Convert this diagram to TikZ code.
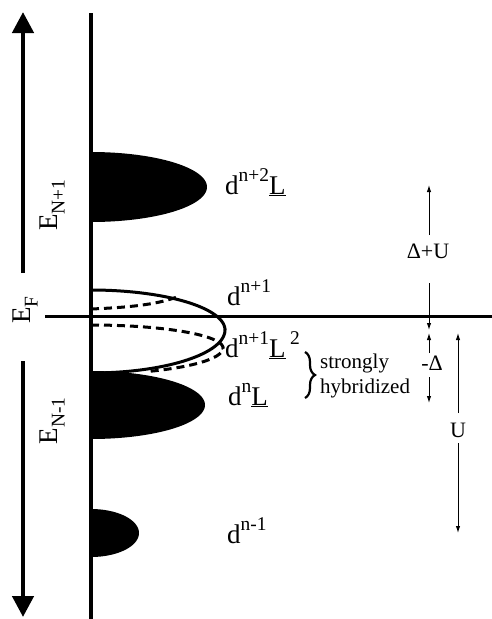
\documentclass[tikz,border=0pt]{standalone}
\usepackage{fontspec}
\setmainfont{Liberation Serif}
\usetikzlibrary{arrows.meta,decorations.pathreplacing}
\newcommand\supx[1]{\raisebox{0.45em}{\scalebox{0.72}{#1}}}
\newcommand\subx[1]{\raisebox{-0.28em}{\scalebox{0.72}{#1}}}
\begin{document}
\begin{tikzpicture}[x=1pt,y=-1pt,
  lbl/.style={inner sep=0pt, font=\fontsize{27}{29}\selectfont},
  elbl/.style={inner sep=0pt, rotate=90, font=\fontsize{27}{29}\selectfont},
  glbl/.style={inner sep=0pt, font=\fontsize{22}{24}\selectfont},
  gaparrow/.style={line width=1pt, -{Latex[length=7pt,width=4.5pt]}},
  bigarrow/.style={line width=4.5pt, -{Triangle[length=21pt,width=21pt]}},
  band/.style={fill=black},
  solidline/.style={line width=3pt},
  dashline/.style={line width=3pt, dash pattern=on 8pt off 5pt}]
\useasboundingbox (0,0) rectangle (492,619);

% hybridized band curves
\draw[solidline] plot[smooth, domain=-90:0, samples=40] ({91+134*cos(\x)},{330+40*sin(\x)})
  -- plot[smooth, domain=0:90, samples=40] ({91+134*cos(\x)},{330+43*sin(\x)});
\coordinate (ud0) at (91,309);
\coordinate (ud1) at (177,297);
\draw[dashline] (ud0) .. controls (140,307) and (160,303) .. (ud1);
\draw[dashline] plot[smooth, domain=-90:0, samples=40] ({91+132*cos(\x)},{348+23*sin(\x)})
  -- plot[smooth, domain=0:65, samples=30] ({91+132*cos(\x)},{348+26*sin(\x)});

% filled bands
\fill[band] plot[smooth, domain=-90:90, samples=60] ({91+116*cos(\x)},{187+35*sin(\x)}) -- cycle;
\fill[band] plot[smooth, domain=-90:90, samples=60] ({91+114*cos(\x)},{405+34*sin(\x)}) -- cycle;
\fill[band] plot[smooth, domain=-90:90, samples=60] ({91+48*cos(\x)},{533+24*sin(\x)}) -- cycle;

% axis and Fermi level
\coordinate (ax0) at (91,13);
\coordinate (ax1) at (91,619);
\draw[line width=3.5pt] (ax0) -- (ax1);
\coordinate (f0) at (45,316);
\coordinate (f1) at (492,316);
\draw[line width=3pt] (f0) -- (f1);

% left energy arrows
\coordinate (ua0) at (23,273);
\coordinate (ua1) at (23,12);
\draw[bigarrow] (ua0) -- (ua1);
\coordinate (la0) at (23,361);
\coordinate (la1) at (23,617);
\draw[bigarrow] (la0) -- (la1);
\node[elbl] (en1) at (52,205) {E\subx{N+1}};
\node[elbl] (ef) at (25,310) {E\subx{F}};
\node[elbl] (em1) at (52,421) {E\subx{N-1}};

% configuration labels
\node[lbl, anchor=base west] (l1) at (225,194) {d\supx{n+2}\underline{L}};
\node[lbl, anchor=base west] (l2) at (227,305) {d\supx{n+1}};
\node[lbl, anchor=base west] (l3) at (225,357) {d\supx{n+1}\underline{L}\,\supx{2}};
\node[lbl, anchor=base west] (l4) at (228,405) {d\supx{n}\underline{L}};
\node[lbl, anchor=base west] (l5) at (227,543) {d\supx{n-1}};

\coordinate (br1) at (305,352);
\coordinate (br2) at (305,398);
\draw[line width=2.2pt, decorate, decoration={brace, amplitude=10pt}] (br1) -- (br2);
\node[inner sep=0pt, font=\fontsize{21}{25}\selectfont, align=left, anchor=west] (sh) at (320,376) {strongly\\hybridized};

% energy gaps
\node[glbl] (dU) at (428,251) {Δ+U};
\coordinate (a1s) at (429,235);
\coordinate (a1e) at (429,185);
\draw[gaparrow] (a1s) -- (a1e);
\coordinate (a2s) at (429,283);
\coordinate (a2e) at (429,330);
\draw[gaparrow] (a2s) -- (a2e);

\node[glbl] (mD) at (432,363) {-Δ};
\coordinate (b1s) at (429,353);
\coordinate (b1e) at (429,333);
\draw[gaparrow] (b1s) -- (b1e);
\coordinate (b2s) at (429,377);
\coordinate (b2e) at (429,403);
\draw[gaparrow] (b2s) -- (b2e);

\node[glbl] (UU) at (458,430) {U};
\coordinate (c1s) at (458,413);
\coordinate (c1e) at (458,333);
\draw[gaparrow] (c1s) -- (c1e);
\coordinate (c2s) at (458,443);
\coordinate (c2e) at (458,533);
\draw[gaparrow] (c2s) -- (c2e);
\end{tikzpicture}
\end{document}
